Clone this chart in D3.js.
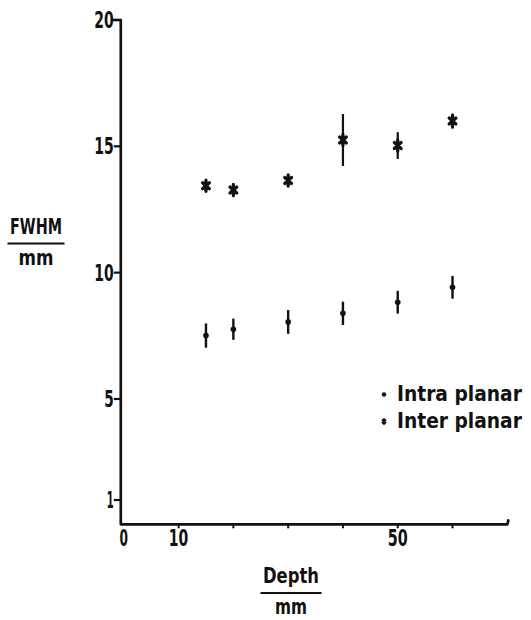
<!DOCTYPE html>
<html>
<head>
<meta charset="utf-8">
<script src="https://cdn.jsdelivr.net/npm/d3@7"></script>
<style>
  html, body { margin: 0; padding: 0; background: #ffffff; }
  svg text { font-family: "DejaVu Sans", sans-serif; fill: #111; font-weight: bold; }
</style>
</head>
<body>
<svg id="chart" width="531" height="620"></svg>
<script>
// Source depth in mm
const depth = [15, 20, 30, 40, 50, 60];
// In-plane resolution (FWHM, mm) with error half-widths
const intraFwhm = [7.51, 7.76, 8.05, 8.39, 8.83, 9.42];
const intraErr  = [0.48, 0.42, 0.47, 0.46, 0.45, 0.45];
// Between-plane resolution (FWHM, mm) with error half-widths
const interFwhm = [13.44, 13.27, 13.65, 15.25, 15.03, 16.0];
const interErr  = [0.2, 0.2, 0.2, 1.03, 0.53, 0.30];

const xTicks = [10, 20, 30, 40, 50, 60];
const xTickLabels = ["0", "10", "50"];
const xTickLabelValues = [0, 10, 50];
const yTicks = [1, 5, 10, 15, 20];
const yTickLabels = ["1", "5", "10", "15", "20"];
const legendLabels = ["Intra planar", "Inter planar"];

const svg = d3.select("#chart");
const ink = "#111";

const x = d3.scaleLinear().domain([0, 70]).range([123.8, 507.3]);
const y = d3.scaleLinear().domain([0, 20]).range([525.3, 20]);

const axisX = x(0) - 3;
const axisY = y(0) - 1;

// widths of the narrow lettering, per string
const glyphW = { "0": 8.5, "1": 7, "5": 9.5, "10": 19.5, "15": 19.5, "20": 19.5, "50": 20 };

// Squeeze each text horizontally to a given width, about its anchor point
function squeeze(sel, widthOf) {
  sel.each(function (d, i) {
    const t = d3.select(this);
    const w = typeof widthOf === "function" ? widthOf(d, i) : widthOf;
    const natural = this.getComputedTextLength();
    const s = natural > 0 ? w / natural : 1;
    const ax = +t.attr("x"), ay = +t.attr("y");
    t.attr("transform", `translate(${ax},${ay}) scale(${s},1) translate(${-ax},${-ay})`);
  });
}

// Axis lines
svg.append("path")
  .attr("d", d3.line()([[axisX - 8, y(20)], [axisX, y(20)], [axisX, axisY], [x(70), axisY], [x(70) + 1, axisY - 4]]))
  .attr("fill", "none").attr("stroke", ink).attr("stroke-width", 2.7)
  .attr("stroke-linejoin", "round").attr("stroke-linecap", "round");

// Y ticks and labels
svg.selectAll(".ytick").data(yTicks).join("line")
  .attr("class", "ytick")
  .attr("x1", axisX - 7).attr("x2", axisX)
  .attr("y1", d => y(d)).attr("y2", d => y(d))
  .attr("stroke", ink).attr("stroke-width", 2.2);

svg.selectAll(".ylab").data(yTicks).join("text")
  .attr("class", "ylab")
  .attr("x", axisX - 7)
  .attr("y", d => y(d) + 8)
  .attr("text-anchor", "end")
  .attr("font-size", 23)
  .text((d, i) => yTickLabels[i])
  .call(squeeze, (d, i) => glyphW[yTickLabels[i]]);

// X ticks and labels
svg.selectAll(".xtick").data(xTicks).join("line")
  .attr("class", "xtick")
  .attr("x1", d => x(d)).attr("x2", d => x(d))
  .attr("y1", axisY).attr("y2", axisY + 4)
  .attr("stroke", ink).attr("stroke-width", 2);

svg.selectAll(".xlab").data(xTickLabelValues).join("text")
  .attr("class", "xlab")
  .attr("x", d => x(d))
  .attr("y", 546.5)
  .attr("text-anchor", "middle")
  .attr("font-size", 23)
  .text((d, i) => xTickLabels[i])
  .call(squeeze, (d, i) => glyphW[xTickLabels[i]]);

// Axis titles written as a fraction: quantity over unit
function fraction(cx, baseTop, topText, topW, lineW, bottomW) {
  svg.append("text")
    .attr("x", cx).attr("y", baseTop)
    .attr("text-anchor", "middle").attr("font-size", 22)
    .text(topText)
    .call(squeeze, topW);
  svg.append("line")
    .attr("x1", cx - lineW / 2).attr("x2", cx + lineW / 2)
    .attr("y1", baseTop + 9.5).attr("y2", baseTop + 9.5)
    .attr("stroke", ink).attr("stroke-width", 2);
  svg.append("text")
    .attr("x", cx).attr("y", baseTop + 31)
    .attr("text-anchor", "middle").attr("font-size", 21)
    .text("mm")
    .call(squeeze, bottomW);
}
fraction(36, 234, "FWHM", 52, 57, 35);
fraction(291, 583.5, "Depth", 56, 61, 32);

// Error bars
const g = svg.append("g");
g.selectAll(".eb-intra").data(depth).join("line")
  .attr("x1", d => x(d)).attr("x2", d => x(d))
  .attr("y1", (d, i) => y(intraFwhm[i] - intraErr[i]))
  .attr("y2", (d, i) => y(intraFwhm[i] + intraErr[i]))
  .attr("stroke", ink).attr("stroke-width", 2.4);

g.selectAll(".eb-inter").data(depth).join("line")
  .attr("x1", d => x(d)).attr("x2", d => x(d))
  .attr("y1", (d, i) => y(interFwhm[i] - interErr[i]))
  .attr("y2", (d, i) => y(interFwhm[i] + interErr[i]))
  .attr("stroke", ink).attr("stroke-width", 2.2);

// Intra-planar markers: dots
g.selectAll(".dot").data(depth).join("circle")
  .attr("cx", d => x(d)).attr("cy", (d, i) => y(intraFwhm[i]))
  .attr("r", 2.8).attr("fill", ink);

// Inter-planar markers: heavy asterisks
function asterisk(s) {
  const h = 5.6 * s, dx = 3.4 * s, dy = 3.0 * s;
  return `M0,${-h}L0,${h}M${-dx},${-dy}L${dx},${dy}M${-dx},${dy}L${dx},${-dy}`;
}
g.selectAll(".star").data(depth).join("path")
  .attr("transform", (d, i) => `translate(${x(d)},${y(interFwhm[i])})`)
  .attr("d", asterisk(1))
  .attr("fill", "none").attr("stroke", ink).attr("stroke-width", 3.2)
  .attr("stroke-linecap", "round");

// Legend
const lg = svg.append("g");
lg.append("circle").attr("cx", 384).attr("cy", 394.5).attr("r", 2.2).attr("fill", ink);
lg.append("path").attr("transform", "translate(384,421.5)")
  .attr("d", asterisk(0.6))
  .attr("fill", "none").attr("stroke", ink).attr("stroke-width", 2.2);
lg.selectAll(".lt").data(legendLabels).join("text")
  .attr("x", 397)
  .attr("y", (d, i) => 401.5 + i * 27)
  .attr("font-size", 22)
  .text(d => d)
  .call(squeeze, 125);
</script>
</body>
</html>
